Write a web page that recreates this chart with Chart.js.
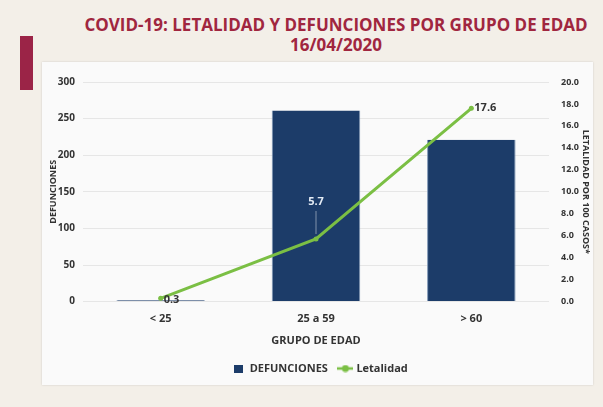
<!DOCTYPE html>
<html>
<head>
<meta charset="utf-8">
<script src="https://cdn.jsdelivr.net/npm/chart.js@4.4.0/dist/chart.umd.min.js"></script>
<style>
	html, body { margin: 0; padding: 0; }
	body { width: 603px; height: 407px; background: #f3efe8; position: relative; overflow: hidden; font-family: 'Open Sans', sans-serif; }
	#redbar { position: absolute; left: 20px; top: 36px; width: 13px; height: 54px; background: #9b2447; }
	#title { position: absolute; left: 80px; width: 512px; top: 15px; text-align: center; color: #a0263f; font-weight: 700; font-size: 17px; line-height: 20px; letter-spacing: 0px; white-space: nowrap; }
	#panel { position: absolute; left: 42px; top: 62px; width: 551px; height: 323px; background: #fafafa; box-shadow: 0 0 2px rgba(0,0,0,0.15); }
	#panel canvas { position: absolute; left: 0; top: 0; }
</style>
</head>
<body>
<div id="redbar"></div>
<div id="title">COVID-19: LETALIDAD Y DEFUNCIONES POR GRUPO DE EDAD<br>16/04/2020</div>
<div id="panel"><canvas id="chart" width="551" height="323"></canvas></div>
<script>
const categories = ['< 25', '25 a 59', '> 60'];
const defunciones = [2, 261, 221];
const letalidad = [0.3, 5.7, 17.6];
const leftTicks = [0, 50, 100, 150, 200, 250, 300];
const rightTicks = [0, 2, 4, 6, 8, 10, 12, 14, 16, 18, 20];

const NAVY = '#1c3c69';
const GREEN = '#7bbf44';
const TXT = '#333333';
const FONT = "'Open Sans', sans-serif";

// little legend symbols
function makeSymbol(w, h, draw) {
	const c = document.createElement('canvas');
	c.width = w; c.height = h;
	draw(c.getContext('2d'));
	return c;
}
const barSymbol = makeSymbol(9, 8, g => { g.fillStyle = NAVY; g.fillRect(0, 0, 9, 8); });
const lineSymbol = makeSymbol(16, 8, g => {
	g.strokeStyle = GREEN; g.lineWidth = 2.5;
	g.beginPath(); g.moveTo(0, 4); g.lineTo(16, 4); g.stroke();
	g.fillStyle = GREEN; g.beginPath(); g.arc(8, 4, 3.5, 0, Math.PI * 2); g.fill();
});

// value labels for the line (no datalabels plugin here)
const lineLabels = {
	id: 'lineLabels',
	afterDatasetsDraw(chart) {
		const ctx = chart.ctx;
		const meta = chart.getDatasetMeta(0);
		ctx.save();
		ctx.font = 'bold 11px ' + FONT;
		ctx.textBaseline = 'middle';
		meta.data.forEach((pt, i) => {
			const txt = letalidad[i].toFixed(1);
			if (i === 1) {
				// label sits above the point, inside the bar
				ctx.strokeStyle = 'rgba(255,255,255,0.45)';
				ctx.lineWidth = 1;
				ctx.beginPath();
				ctx.moveTo(pt.x, pt.y - 5);
				ctx.lineTo(pt.x, pt.y - 28);
				ctx.stroke();
				ctx.fillStyle = '#e4ecf5';
				ctx.textAlign = 'center';
				ctx.fillText(txt, pt.x, pt.y - 37);
			} else {
				ctx.fillStyle = TXT;
				ctx.textAlign = 'left';
				ctx.fillText(txt, pt.x + 3, pt.y + (i === 0 ? 2 : 0));
			}
		});
		ctx.restore();
	}
};

const ctx = document.getElementById('chart').getContext('2d');
const chart = new Chart(ctx, {
	data: {
		labels: categories,
		datasets: [{
			type: 'line',
			label: 'Letalidad',
			data: letalidad,
			yAxisID: 'y1',
			borderColor: GREEN,
			backgroundColor: GREEN,
			borderWidth: 3,
			pointRadius: 2.5,
			pointBackgroundColor: GREEN,
			pointBorderWidth: 0,
			tension: 0,
			order: 0
		}, {
			type: 'bar',
			label: 'DEFUNCIONES',
			data: defunciones,
			yAxisID: 'y',
			backgroundColor: NAVY,
			borderColor: '#7d95b3',
			borderWidth: { top: 0, left: 1, right: 1, bottom: 0 },
			barPercentage: 0.57,
			categoryPercentage: 1,
			minBarLength: 1,
			order: 1
		}]
	},
	options: {
		responsive: false,
		animation: false,
		layout: { padding: { top: 20, left: 6, right: 0, bottom: 1 } },
		plugins: {
			title: { display: false },
			tooltip: { enabled: false },
			legend: {
				position: 'bottom',
				labels: {
					color: TXT,
					font: { family: FONT, size: 11, weight: 'bold' },
					usePointStyle: true,
					padding: 12,
					generateLabels() {
						return [{
							text: 'DEFUNCIONES', pointStyle: barSymbol, fontColor: TXT, datasetIndex: 1
						}, {
							text: 'Letalidad', pointStyle: lineSymbol, fontColor: TXT, datasetIndex: 0
						}];
					}
				}
			}
		},
		scales: {
			x: {
				grid: { display: false },
				border: { display: false },
				ticks: { color: TXT, font: { family: FONT, size: 11, weight: 'bold' }, padding: 3 },
				title: { display: true, text: 'GRUPO DE EDAD', color: TXT, font: { family: FONT, size: 11, weight: 'bold' }, padding: { top: 5, bottom: 4 } }
			},
			y: {
				position: 'left',
				min: 0, max: 300,
				afterBuildTicks: axis => { axis.ticks = leftTicks.map(v => ({ value: v })); },
				afterFit: axis => { axis.width = 35; },
				grid: { color: '#e6e6e6', lineWidth: 1, drawTicks: false },
				border: { display: false },
				ticks: { color: TXT, font: { family: FONT, size: 10, weight: 'bold' }, padding: 8 },
				title: { display: true, text: 'DEFUNCIONES', color: TXT, font: { family: FONT, size: 9, weight: 'bold' }, padding: 0 }
			},
			y1: {
				position: 'right',
				min: 0, max: 20,
				afterBuildTicks: axis => { axis.ticks = rightTicks.map(v => ({ value: v })); },
				afterFit: axis => { axis.width = 44; },
				grid: { display: false },
				border: { display: false },
				ticks: { color: TXT, font: { family: FONT, size: 9, weight: 'bold' }, padding: 4, callback: v => v.toFixed(1) },
				title: { display: true, text: 'LETALIDAD POR 100 CASOS*', color: TXT, font: { family: FONT, size: 9, weight: 'bold' }, padding: 2 }
			}
		}
	},
	plugins: [lineLabels]
});
</script>
</body>
</html>
